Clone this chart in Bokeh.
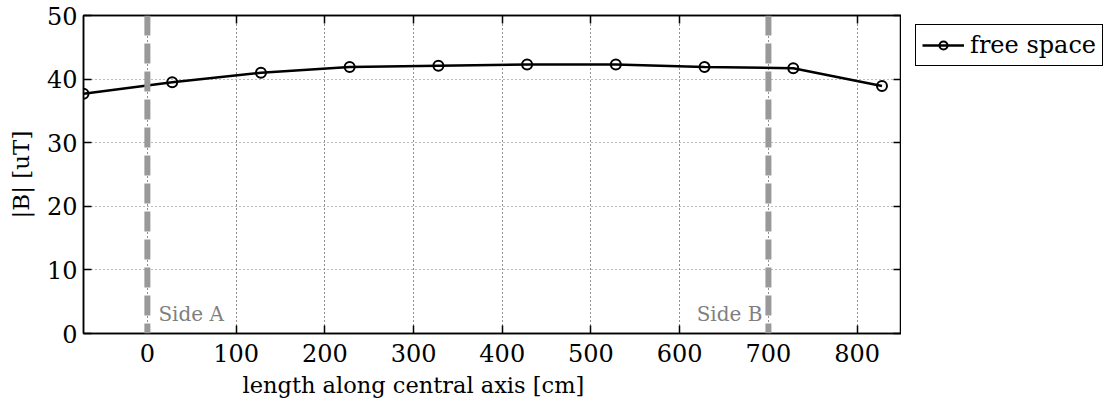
from bokeh.plotting import figure
from bokeh.layouts import row
from bokeh.models import (Span, Label, Legend, LegendItem, LinearAxis, Title,
                          FixedTicker, Range1d, ColumnDataSource)
from bokeh.embed import file_html
from bokeh.resources import INLINE

# ---- data ----
x_cm = [-72, 28, 128, 228, 328, 428, 528, 628, 728, 828]
b_ut = [37.7, 39.5, 41.0, 41.9, 42.1, 42.3, 42.3, 41.9, 41.7, 38.9]
x_ticks = [0, 100, 200, 300, 400, 500, 600, 700, 800]
y_ticks = [0, 10, 20, 30, 40, 50]
side_x = [0, 700]
side_labels = ["Side A", "Side B"]
series_name = "free space"
x_title = "length along central axis [cm]"
y_title = "|B| [uT]"

FONT = "DejaVu Serif"
FS = "24px"

p = figure(frame_width=818, frame_height=318,
           x_range=Range1d(-72, 850), y_range=Range1d(0, 50),
           output_backend="svg", toolbar_location=None,
           min_border_left=83, min_border_top=15, min_border_right=0,
           min_border_bottom=0)
p.background_fill_color = "white"
p.border_fill_color = "white"
p.outline_line_color = "black"
p.outline_line_width = 1.5

# grids
p.xgrid.ticker = FixedTicker(ticks=x_ticks)
p.ygrid.ticker = FixedTicker(ticks=y_ticks)
p.xgrid.grid_line_color = "#222222"
p.xgrid.grid_line_dash = "1 3"
p.ygrid.grid_line_color = "#777777"
p.ygrid.grid_line_dash = "1 3"

# axes
for ax in (p.xaxis[0], p.yaxis[0]):
    ax.major_tick_in = 8
    ax.major_tick_out = 0
    ax.minor_tick_in = 0
    ax.minor_tick_out = 0
    ax.axis_line_width = 1.5
    ax.major_tick_line_width = 1.5
    ax.major_label_text_font = FONT
    ax.major_label_text_font_size = FS
    ax.major_label_text_color = "black"
    ax.axis_label_text_font = FONT
    ax.axis_label_text_font_size = "23px"
    ax.axis_label_text_color = "black"
    ax.axis_label_text_font_style = "normal"
p.xaxis[0].ticker = FixedTicker(ticks=x_ticks)
p.yaxis[0].ticker = FixedTicker(ticks=y_ticks)
p.xaxis[0].major_label_standoff = 10
p.yaxis[0].major_label_standoff = 6
p.yaxis[0].axis_label = y_title
p.yaxis[0].axis_label_standoff = 10

for loc in ("above", "right"):
    ax = LinearAxis(ticker=FixedTicker(ticks=x_ticks if loc == "above" else y_ticks),
                    major_tick_in=8, major_tick_out=0, minor_tick_in=0, minor_tick_out=0,
                    major_label_text_font_size="1px", major_label_text_color=None,
                    major_label_standoff=0,
                    axis_line_width=1.5, major_tick_line_width=1.5)
    p.add_layout(ax, loc)

t = Title(text=x_title, align="left", offset=159, text_font=FONT,
          text_font_size="22.5px", text_font_style="normal", text_color="black",
          standoff=11)
p.add_layout(t, "below")

# side markers
for sx in side_x:
    p.add_layout(Span(location=sx, dimension="height", line_color="#999999",
                      line_width=6, line_dash="20 8"))
p.add_layout(Label(x=side_x[0], y=3, text=side_labels[0], x_offset=11,
                   text_font=FONT, text_font_size="20px", text_color="#808080",
                   text_baseline="alphabetic"))
p.add_layout(Label(x=side_x[1], y=3, text=side_labels[1], x_offset=-6,
                   text_align="right", text_font=FONT, text_font_size="20px",
                   text_color="#808080", text_baseline="alphabetic"))

src = ColumnDataSource(dict(x=x_cm, y=b_ut))
p.line("x", "y", source=src, line_color="black", line_width=2.5)
p.scatter("x", "y", source=src, size=10, fill_color=None,
          line_color="black", line_width=2)

# legend panel (separate figure to the right of the axes); its ranges keep the
# series itself out of view so only the legend entry shows
q = figure(width=209, height=408, x_range=Range1d(0, 1), y_range=Range1d(0, 1),
           x_axis_type=None, y_axis_type=None, output_backend="svg",
           toolbar_location=None, min_border=0, title=None)
q.outline_line_color = None
q.xgrid.visible = False
q.ygrid.visible = False
l1 = q.line("x", "y", source=src, line_color="black", line_width=2.5)
l2 = q.scatter("x", "y", source=src, size=7, fill_color=None,
               line_color="black", line_width=2)
legend = Legend(items=[LegendItem(label=series_name, renderers=[l1, l2])],
                location=(14, 272), border_line_color="black", border_line_width=1,
                border_line_alpha=1,
                label_text_font=FONT, label_text_font_size="24px",
                label_text_color="black",
                glyph_width=42, label_standoff=6, padding=6, margin=0,
                background_fill_alpha=1)
q.add_layout(legend, "center")

layout = row(p, q, spacing=0)
open("out.html", "w").write(file_html(layout, INLINE))
